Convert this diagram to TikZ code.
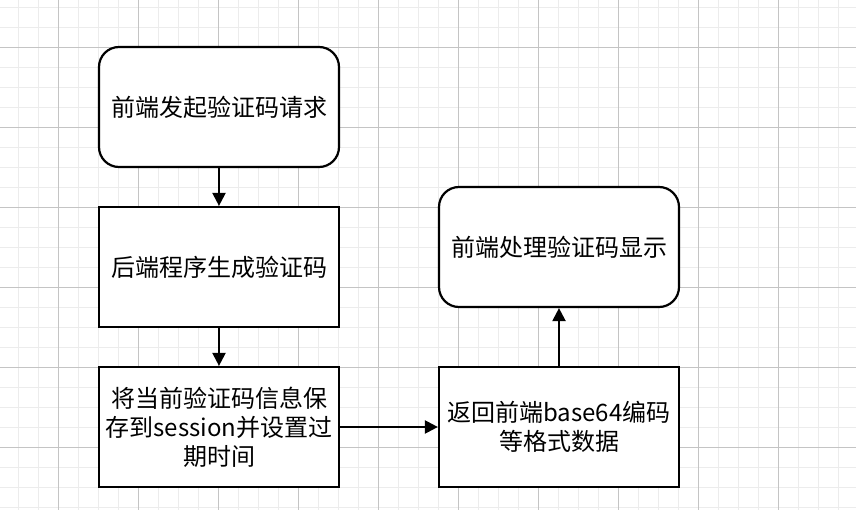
\documentclass[tikz,border=0pt]{standalone}
\usepackage{fontspec}
\setmainfont{Noto Sans CJK SC}
\usetikzlibrary{arrows.meta}
\begin{document}
\begin{tikzpicture}[x=1pt,y=-1pt,
  box/.style={draw=black,line width=2.2pt,fill=white,minimum width=240pt,minimum height=120pt,
    inner sep=0pt,align=center,font=\fontsize{24}{29}\selectfont,text width=236pt},
  rbox/.style={box,rounded corners=20pt},
  conn/.style={line width=2.2pt,-{Triangle[length=13pt,width=13pt]}},
  minorgrid/.style={draw={rgb,255:red,236;green,236;blue,236},line width=0.8pt},
  majorgrid/.style={draw={rgb,255:red,196;green,196;blue,196},line width=0.9pt}]
\useasboundingbox (0,0) rectangle (856,510);
\fill[white] (0,0) rectangle (856,510);
\foreach \x in {-2,18,...,858} \draw[minorgrid] (\x,0) -- (\x,510);
\foreach \y in {7,27,...,507} \draw[minorgrid] (0,\y) -- (856,\y);
\foreach \x in {58,138,...,858} \draw[majorgrid] (\x,0) -- (\x,510);
\foreach \y in {47,127,...,507} \draw[majorgrid] (0,\y) -- (856,\y);
\node[rbox] (a) at (219,107) {前端发起验证码请求};
\node[box] (b) at (219,267) {后端程序生成验证码};
\node[box] (c) at (219,427) {将当前验证码信息保\\存到session并设置过\\期时间};
\node[box] (d) at (559,427) {返回前端base64编码\\等格式数据};
\node[rbox] (e) at (559,247) {前端处理验证码显示};
\draw[conn] (a) -- (b);
\draw[conn] (b) -- (c);
\draw[conn] (c) -- (d);
\draw[conn] (d) -- (e);
\end{tikzpicture}
\end{document}
